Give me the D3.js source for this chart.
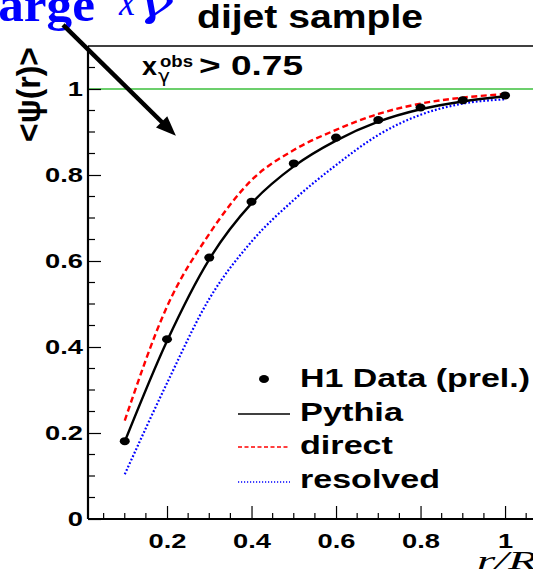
<!DOCTYPE html>
<html>
<head>
<meta charset="utf-8">
<script src="https://cdn.jsdelivr.net/npm/d3@7"></script>
<style>
  html, body { margin: 0; padding: 0; background: #fff; }
  svg { display: block; }
</style>
</head>
<body>
<svg id="chart" width="533" height="579"></svg>
<script>
// Jet shape <psi(r)> vs r/R, dijet sample, x_gamma^obs > 0.75
const rValues     = [0.1, 0.2, 0.3, 0.4, 0.5, 0.6, 0.7, 0.8, 0.9, 1.0];
const h1Data      = [0.181, 0.418, 0.608, 0.738, 0.827, 0.887, 0.928, 0.957, 0.974, 0.985];
const pythia      = [0.180, 0.414, 0.604, 0.734, 0.820, 0.880, 0.924, 0.953, 0.971, 0.983];
const direct      = [0.229, 0.494, 0.663, 0.788, 0.858, 0.905, 0.942, 0.966, 0.980, 0.988];
const resolved    = [0.104, 0.316, 0.512, 0.645, 0.742, 0.823, 0.893, 0.940, 0.966, 0.976];
const xTickLabels = ["0.2", "0.4", "0.6", "0.8", "1"];
const yTickLabels = ["0", "0.2", "0.4", "0.6", "0.8", "1"];
const legendItems = ["H1 Data (prel.)", "Pythia", "direct", "resolved"];
// annotation arrow, in data units (start, tip)
const arrowFrom = [-0.046, 1.149];
const arrowTo   = [0.221, 0.891];

const SANS  = '"Liberation Sans", Arial, Helvetica, sans-serif';
const SERIF = '"Liberation Serif", "Times New Roman", serif';

const svg = d3.select("#chart");
const W = 533;
const SX = 1.3; // horizontal glyph stretch

const x = d3.scaleLinear().domain([0.013, 1.1]).range([88, 547.3]);
const y = d3.scaleLinear().domain([0, 1.1]).range([519, 46]);

// helper for bold sans labels
function bold(sel, size) {
  return sel.style("font-family", SANS).style("font-weight", "bold")
    .style("font-size", size + "px").attr("fill", "#000");
}

// top frame
svg.append("line")
  .attr("x1", x.range()[0]).attr("x2", W)
  .attr("y1", y(1.1)).attr("y2", y(1.1))
  .attr("stroke", "#000").attr("stroke-width", 1.5);

// unity reference line
svg.append("line")
  .attr("x1", x.range()[0]).attr("x2", W)
  .attr("y1", y(1)).attr("y2", y(1))
  .attr("stroke", "#6ccf6c").attr("stroke-width", 2);

// minor ticks
const isMajor = v => Math.abs(v / 0.2 - Math.round(v / 0.2)) < 1e-6;
const xMinor = d3.range(1, 22).map(i => i * 0.05).filter(v => !isMajor(v));
const yMinor = d3.range(1, 22).map(i => i * 0.05).filter(v => !isMajor(v));

svg.append("g").selectAll("line").data(xMinor).join("line")
  .attr("x1", d => x(d)).attr("x2", d => x(d))
  .attr("y1", y(0)).attr("y2", y(0) - 6)
  .attr("stroke", "#000").attr("stroke-width", 1.2);
svg.append("g").selectAll("line").data(yMinor).join("line")
  .attr("x1", x.range()[0]).attr("x2", x.range()[0] + 7)
  .attr("y1", d => y(d)).attr("y2", d => y(d))
  .attr("stroke", "#000").attr("stroke-width", 1.2);

// x axis
const xAxis = d3.axisBottom(x)
  .tickValues(xTickLabels.map(Number))
  .tickFormat((d, i) => xTickLabels[i])
  .tickSizeInner(-13).tickSizeOuter(0).tickPadding(14);
const gx = svg.append("g").attr("transform", `translate(0,${y(0)})`).call(xAxis);
gx.select(".domain").attr("d", `M${x.range()[0]},0H${W}`).attr("stroke", "#000").attr("stroke-width", 2.2);
gx.selectAll(".tick line").attr("stroke", "#000").attr("stroke-width", 1.2);
bold(gx.selectAll(".tick text"), 21).attr("transform", `scale(${SX},1)`);

// y axis
const yAxis = d3.axisLeft(y)
  .tickValues(yTickLabels.map(Number))
  .tickFormat((d, i) => yTickLabels[i])
  .tickSizeInner(-13).tickSizeOuter(0).tickPadding(5);
const gy = svg.append("g").attr("transform", `translate(${x.range()[0]},0)`).call(yAxis);
gy.select(".domain").attr("d", `M0,${y(0)}V${y(1.1)}`).attr("stroke", "#000").attr("stroke-width", 2.2);
gy.selectAll(".tick line").attr("stroke", "#000").attr("stroke-width", 1.2);
bold(gy.selectAll(".tick text"), 21).attr("x", -5 / SX).attr("transform", `scale(${SX},1)`);

// curves
const pts = vals => rValues.map((r, i) => [r, vals[i]]);
const line = d3.line().x(d => x(d[0])).y(d => y(d[1])).curve(d3.curveMonotoneX);

svg.append("path").datum(pts(direct)).attr("d", line)
  .attr("fill", "none").attr("stroke", "#ff0000").attr("stroke-width", 2.4)
  .attr("stroke-dasharray", "6,3.5");
svg.append("path").datum(pts(resolved)).attr("d", line)
  .attr("fill", "none").attr("stroke", "#0000ff").attr("stroke-width", 2.2)
  .attr("stroke-dasharray", "1.8,2");
svg.append("path").datum(pts(pythia)).attr("d", line)
  .attr("fill", "none").attr("stroke", "#000").attr("stroke-width", 2.4);

// data points
svg.append("g").selectAll("ellipse").data(pts(h1Data)).join("ellipse")
  .attr("cx", d => x(d[0])).attr("cy", d => y(d[1]))
  .attr("rx", 5).attr("ry", 4).attr("fill", "#000");

// legend
const lg = svg.append("g");
const legBase = [387, 421, 454, 488];
const sampleX0 = 238, sampleX1 = 290, textX = 300;
const legWidths = [230, 103, 93, 140];
lg.append("ellipse").attr("cx", (sampleX0 + sampleX1) / 2).attr("cy", legBase[0] - 8)
  .attr("rx", 5).attr("ry", 4).attr("fill", "#000");
lg.append("line").attr("x1", sampleX0).attr("x2", sampleX1)
  .attr("y1", legBase[1] - 7).attr("y2", legBase[1] - 7)
  .attr("stroke", "#000").attr("stroke-width", 1.6);
lg.append("line").attr("x1", sampleX0).attr("x2", sampleX1)
  .attr("y1", legBase[2] - 7).attr("y2", legBase[2] - 7)
  .attr("stroke", "#ff0000").attr("stroke-width", 1.6).attr("stroke-dasharray", "4,2.5");
lg.append("line").attr("x1", sampleX0).attr("x2", sampleX1)
  .attr("y1", legBase[3] - 6).attr("y2", legBase[3] - 6)
  .attr("stroke", "#0000ff").attr("stroke-width", 1.6).attr("stroke-dasharray", "1.2,1.8");
bold(lg.selectAll("text").data(legendItems).join("text"), 26)
  .attr("x", textX).attr("y", (d, i) => legBase[i])
  .attr("textLength", (d, i) => legWidths[i])
  .attr("lengthAdjust", "spacingAndGlyphs")
  .text(d => d);

// header label
bold(svg.append("text"), 34).attr("x", 197).attr("y", 28)
  .attr("textLength", 226).attr("lengthAdjust", "spacingAndGlyphs")
  .text("dijet sample");

// cut label x_gamma^obs > 0.75
const cut = svg.append("g");
bold(cut.append("text"), 25).attr("x", 142).attr("y", 75)
  .attr("textLength", 15).attr("lengthAdjust", "spacingAndGlyphs").text("x");
bold(cut.append("text"), 16).attr("x", 160).attr("y", 67)
  .attr("textLength", 33).attr("lengthAdjust", "spacingAndGlyphs").text("obs");
cut.append("text").attr("x", 158).attr("y", 82)
  .style("font-family", '"DejaVu Sans", sans-serif').style("font-size", "17px")
  .attr("fill", "#000")
  .attr("textLength", 12).attr("lengthAdjust", "spacingAndGlyphs").text("γ");
bold(cut.append("text"), 27).attr("x", 199).attr("y", 75)
  .attr("textLength", 104).attr("lengthAdjust", "spacingAndGlyphs").text("> 0.75");

// y axis title
bold(svg.append("text"), 26)
  .attr("transform", "translate(40,94.5) rotate(-90) scale(1,1.25)")
  .attr("text-anchor", "middle")
  .attr("textLength", 95).attr("lengthAdjust", "spacingAndGlyphs")
  .text("<ψ(r)>");

// x axis title
svg.append("text").attr("x", 477).attr("y", 569)
  .style("font-family", SERIF).style("font-style", "italic").style("font-size", "25px")
  .attr("fill", "#000")
  .attr("textLength", 60).attr("lengthAdjust", "spacingAndGlyphs")
  .text("r/R");

// blue heading "large x_gamma" (partly outside the canvas)
const head = svg.append("g");
head.append("text").attr("x", -16).attr("y", 21)
  .style("font-family", SERIF).style("font-weight", "bold").style("font-size", "48px")
  .attr("fill", "#0000ff")
  .attr("textLength", 111).attr("lengthAdjust", "spacingAndGlyphs")
  .text("large");
head.append("text").attr("x", 119).attr("y", 15)
  .style("font-family", SERIF).style("font-style", "italic").style("font-size", "40px")
  .attr("fill", "#0000ff")
  .attr("textLength", 16).attr("lengthAdjust", "spacingAndGlyphs")
  .text("x");
head.append("text").attr("x", 135).attr("y", 16)
  .style("font-family", '"DejaVu Serif", "Liberation Serif", serif')
  .style("font-style", "italic").style("font-size", "38px")
  .attr("fill", "#0000ff")
  .attr("textLength", 38).attr("lengthAdjust", "spacingAndGlyphs")
  .text("γ");

// annotation arrow
const ax0 = x(arrowFrom[0]), ay0 = y(arrowFrom[1]);
const ax1 = x(arrowTo[0]), ay1 = y(arrowTo[1]);
const len = Math.hypot(ax1 - ax0, ay1 - ay0);
const ux = (ax1 - ax0) / len, uy = (ay1 - ay0) / len;
const headLen = 20, headHalf = 8;
const bx = ax1 - ux * headLen, by = ay1 - uy * headLen;
svg.append("line")
  .attr("x1", ax0).attr("y1", ay0)
  .attr("x2", bx + ux * 2).attr("y2", by + uy * 2)
  .attr("stroke", "#000").attr("stroke-width", 4.5);
svg.append("path")
  .attr("d", `M${ax1},${ay1}L${bx - uy * headHalf},${by + ux * headHalf}L${bx + uy * headHalf},${by - ux * headHalf}Z`)
  .attr("fill", "#000");
</script>
</body>
</html>
